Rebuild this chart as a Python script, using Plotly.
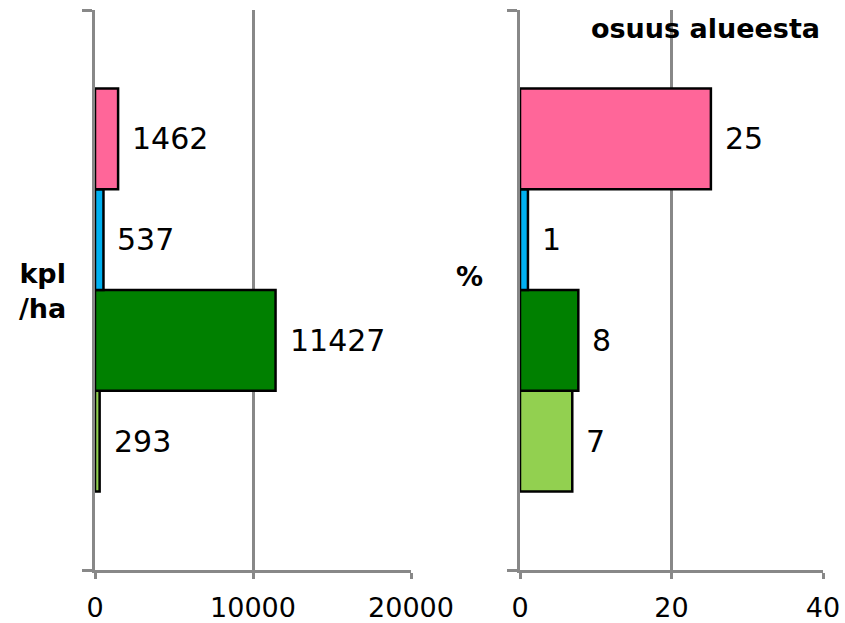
import plotly.graph_objects as go

# data (bottom-to-top order)
series = ["light green", "dark green", "blue", "pink"]
colors = ["#92D050", "#008000", "#00B0F0", "#FF6699"]
kpl_ha = [293, 11427, 537, 1462]
osuus = [6.9, 7.7, 1.05, 25.2]
osuus_labels = ["7", "8", "1", "25"]
left_ticks = [0, 10000, 20000]
left_ticktext = ["0", "10000", "20000"]
right_ticks = [0, 20, 40]
right_ticktext = ["0", "20", "40"]

W, H = 845, 623
FONT = "DejaVu Sans"
GRID = "#888888"

fig = go.Figure()
for i, s in enumerate(series):
    fig.add_trace(go.Bar(y=[0], x=[kpl_ha[i]], orientation="h", name=s,
                         marker=dict(color=colors[i], line=dict(color="black", width=2.5)),
                         xaxis="x", yaxis="y", offsetgroup=str(i), showlegend=False))
    fig.add_trace(go.Bar(y=[0], x=[osuus[i]], orientation="h", name=s,
                         marker=dict(color=colors[i], line=dict(color="black", width=2.5)),
                         xaxis="x2", yaxis="y2", offsetgroup=str(i), showlegend=False))

# data labels
n = len(series)
gap = 0.28
bw = (1 - gap) / n
annotations = []
for i in range(n):
    yc = -0.5 + gap / 2 + bw * (i + 0.5)
    annotations.append(dict(x=kpl_ha[i], y=yc, xref="x", yref="y", text=str(kpl_ha[i]),
                            showarrow=False, xanchor="left", yanchor="middle", xshift=12,
                            font=dict(family=FONT, size=30, color="black")))
    annotations.append(dict(x=osuus[i], y=yc, xref="x2", yref="y2", text=osuus_labels[i],
                            showarrow=False, xanchor="left", yanchor="middle", xshift=12,
                            font=dict(family=FONT, size=30, color="black")))

annotations += [
    dict(x=42 / W, y=1 - 291 / H, xref="paper", yref="paper", text="<b>kpl<br>/ha</b>",
         showarrow=False, xanchor="center", yanchor="middle", align="center",
         font=dict(family=FONT, size=27, color="black")),
    dict(x=470 / W, y=1 - 276 / H, xref="paper", yref="paper", text="<b>%</b>",
         showarrow=False, xanchor="center", yanchor="middle",
         font=dict(family=FONT, size=27, color="black")),
    dict(x=822 / W, y=1 - 28 / H, xref="paper", yref="paper", text="<b>osuus alueesta</b>",
         showarrow=False, xanchor="right", yanchor="middle",
         font=dict(family=FONT, size=27, color="black")),
]

xcommon = dict(showgrid=True, gridcolor=GRID, gridwidth=2.5, showline=True, linecolor=GRID,
               linewidth=2.5, ticks="outside", tickcolor=GRID, ticklen=6, tickwidth=2.5,
               tickfont=dict(family=FONT, size=27, color="black"), zeroline=False,
               fixedrange=True, automargin=False, ticklabelstandoff=6)
ycommon = dict(range=[-0.5, 0.5], tickmode="array", tickvals=[-0.5, 0.5], showticklabels=False,
               showgrid=False, zeroline=False, showline=True, linecolor=GRID, linewidth=2.5,
               ticks="outside", ticklen=10, tickwidth=2.5, tickcolor=GRID, automargin=False,
               fixedrange=True)

y0, y1 = 1 - 570 / H, 1 - 10 / H
fig.update_layout(
    width=W, height=H,
    margin=dict(l=0, r=0, t=0, b=0),
    paper_bgcolor="white", plot_bgcolor="white",
    barmode="group", bargap=gap, bargroupgap=0,
    xaxis=dict(domain=[95 / W, 411 / W], range=[0, 20000], tickmode="array",
               tickvals=left_ticks, ticktext=left_ticktext, anchor="y", **xcommon),
    yaxis=dict(domain=[y0, y1], anchor="x", **ycommon),
    xaxis2=dict(domain=[520 / W, 823 / W], range=[0, 40], tickmode="array",
                tickvals=right_ticks, ticktext=right_ticktext, anchor="y2", **xcommon),
    yaxis2=dict(domain=[y0, y1], anchor="x2", **ycommon),
    annotations=annotations,
    font=dict(family=FONT, color="black"),
    hovermode=False,
)

fig.write_html("out.html", config={"displayModeBar": False},
               post_script="document.body.style.margin='0';document.body.style.overflow='hidden';")
